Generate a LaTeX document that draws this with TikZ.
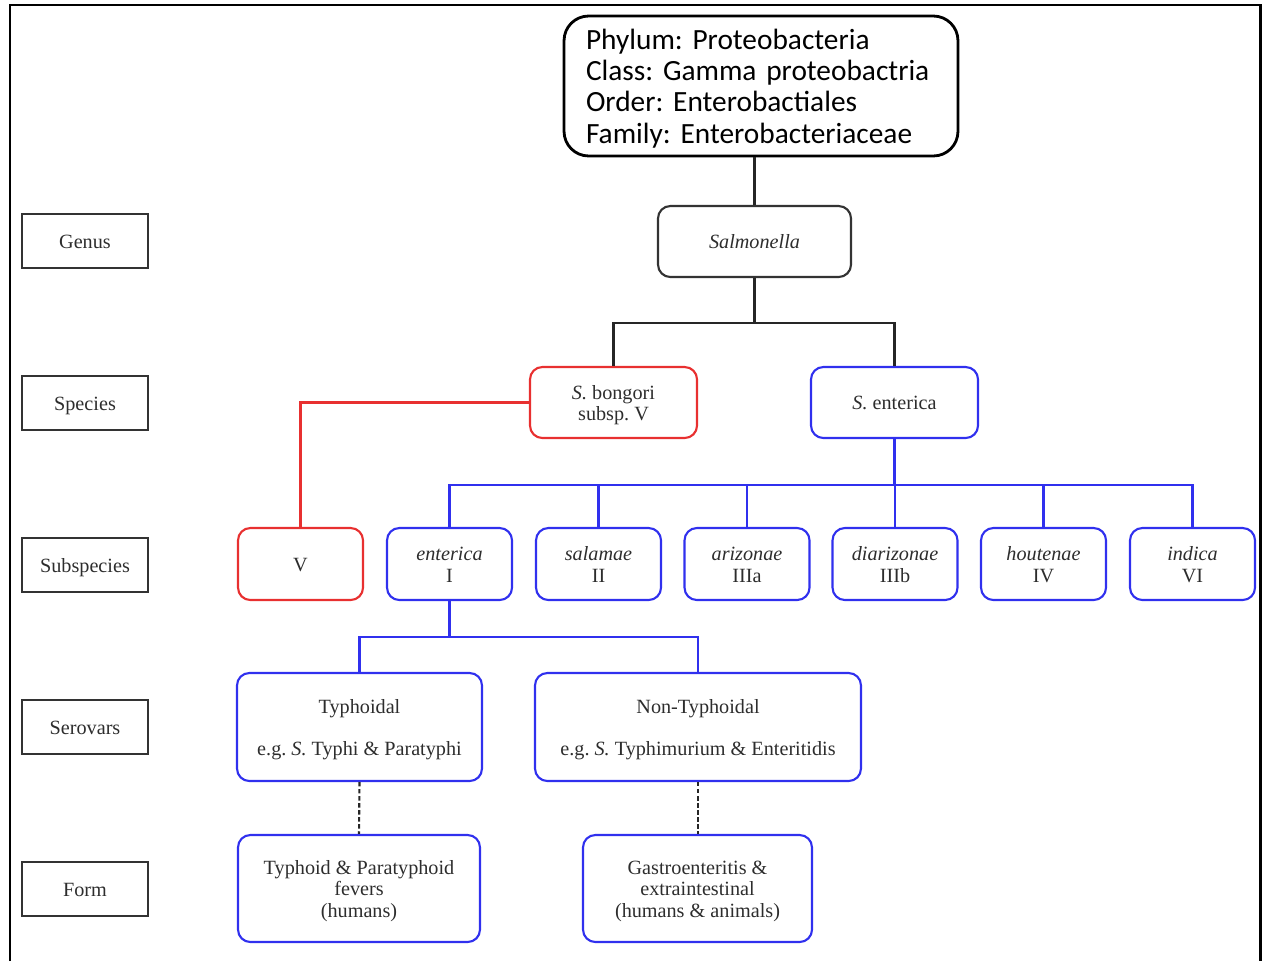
\documentclass[tikz,border=0pt]{standalone}
\usepackage{fontspec}
\setmainfont{Liberation Serif}
\newfontfamily\calib[WordSpace=0.75]{Carlito}
\definecolor{myred}{RGB}{232,48,48}
\definecolor{myblue}{RGB}{48,48,238}
\definecolor{txt}{RGB}{45,45,45}
\newcommand\T[1]{\raisebox{-1.8pt}[\height][\depth]{\begin{tabular}{@{}c@{}}#1\end{tabular}}}
\newcommand\TL[1]{\raisebox{-2.4pt}[\height][\depth]{\begin{tabular}{@{}l@{}}#1\end{tabular}}}
\frenchspacing
\begin{document}
\begin{tikzpicture}[x=0.02cm,y=-0.02cm,
 base/.style={draw, rounded corners=7pt, line width=1.2pt, font=\fontsize{11.5}{12.2}\selectfont, text=txt, inner sep=0pt},
 rbox/.style={base, draw=myred},
 bbox/.style={base, draw=myblue},
 lab/.style={draw=black!80, line width=1.3pt, minimum width=2.52cm, minimum height=1.08cm, font=\fontsize{11.5}{12.2}\selectfont, text=txt, inner sep=0pt},
 subbox/.style={bbox, minimum width=2.5cm, minimum height=1.44cm},
 rl/.style={myred, line width=1.2pt},
 bl/.style={myblue, line width=1.2pt},
 kl/.style={black!85, line width=1.2pt}]
\useasboundingbox (0,0) rectangle (1263,961);
% frame
\draw[line width=1.7pt] (10,961) -- (10,5) -- (1260,5) -- (1260,961);
% top box
\node[draw, line width=1.6pt, rounded corners=14pt, text width=7.0cm, inner xsep=0.44cm, inner ysep=0pt, minimum height=2.8cm, font=\calib\fontsize{16.7}{17.7}\selectfont\frenchspacing] (top) at (761,86) {\TL{Phylum: Proteobacteria\\Class: Gamma proteobactria\\Order: Enterobactiales\\Family: Enterobacteriaceae}};
% left labels
\node[lab] (lgenus) at (85,241) {\T{Genus}};
\node[lab] (lspecies) at (85,403) {\T{Species}};
\node[lab] (lsub) at (85,565) {\T{Subspecies}};
\node[lab] (lser) at (85,727) {\T{Serovars}};
\node[lab] (lform) at (85,889) {\T{Form}};
% tree
\node[base, draw=black!80, minimum width=3.86cm, minimum height=1.42cm] (salm) at (754.5,241.5) {\T{\textit{Salmonella}}};
\node[rbox, minimum width=3.34cm, minimum height=1.42cm] (bong) at (613.5,402.5) {\T{\textit{S.} bongori\\subsp. V}};
\node[bbox, minimum width=3.34cm, minimum height=1.42cm] (sent) at (894.5,402.5) {\T{\textit{S.} enterica}};
\node[rbox, minimum width=2.5cm, minimum height=1.44cm] (v) at (300.5,564) {\T{V}};
\node[subbox] (ent) at (449.5,564) {\T{\textit{enterica}\\I}};
\node[subbox] (sal) at (598.5,564) {\T{\textit{salamae}\\II}};
\node[subbox] (ari) at (747,564) {\T{\textit{arizonae}\\IIIa}};
\node[subbox] (dia) at (895,564) {\T{\textit{diarizonae}\\IIIb}};
\node[subbox] (hou) at (1043.5,564) {\T{\textit{houtenae}\\IV}};
\node[subbox] (ind) at (1192.5,564) {\T{\textit{indica}\\VI}};
\node[bbox, minimum width=4.9cm, minimum height=2.16cm] (typ) at (359.5,727) {\T{Typhoidal\\[11.6pt]e.g. \textit{S.} Typhi \& Paratyphi}};
\node[bbox, minimum width=6.52cm, minimum height=2.16cm] (ntyp) at (698,727) {\T{Non-Typhoidal\\[11.6pt]e.g. \textit{S.} Typhimurium \& Enteritidis}};
\node[bbox, minimum width=4.84cm, minimum height=2.14cm] (tf) at (359,888.5) {\T{Typhoid \& Paratyphoid\\fevers\\(humans)}};
\node[bbox, minimum width=4.58cm, minimum height=2.14cm] (gf) at (697.5,888.5) {\T{Gastroenteritis \&\\extraintestinal\\(humans \& animals)}};
% connectors
\draw[kl] (salm.north) -- (salm.north |- top.south);
\draw[kl] (salm.south) -- ++(0,45) coordinate (j1) -| (bong.north);
\draw[kl] (j1) -| (sent.north);
\draw[rl] (bong.west) -| (v.north);
\draw[bl] (sent.south) -- ++(0,46) coordinate (j2);
\foreach \n in {ent,sal,ari,dia,hou,ind} \draw[bl] (j2) -| (\n.north);
\draw[bl] (ent.south) -- ++(0,36) coordinate (j3);
\draw[bl] (j3) -| (typ.north);
\draw[bl] (j3) -| (ntyp.north);
\draw[kl, dash pattern=on 2.5pt off 1.5pt] (typ.south) -- (tf.north);
\draw[kl, dash pattern=on 2.5pt off 1.5pt] (ntyp.south) -- (ntyp.south |- gf.north);
\end{tikzpicture}
\end{document}
